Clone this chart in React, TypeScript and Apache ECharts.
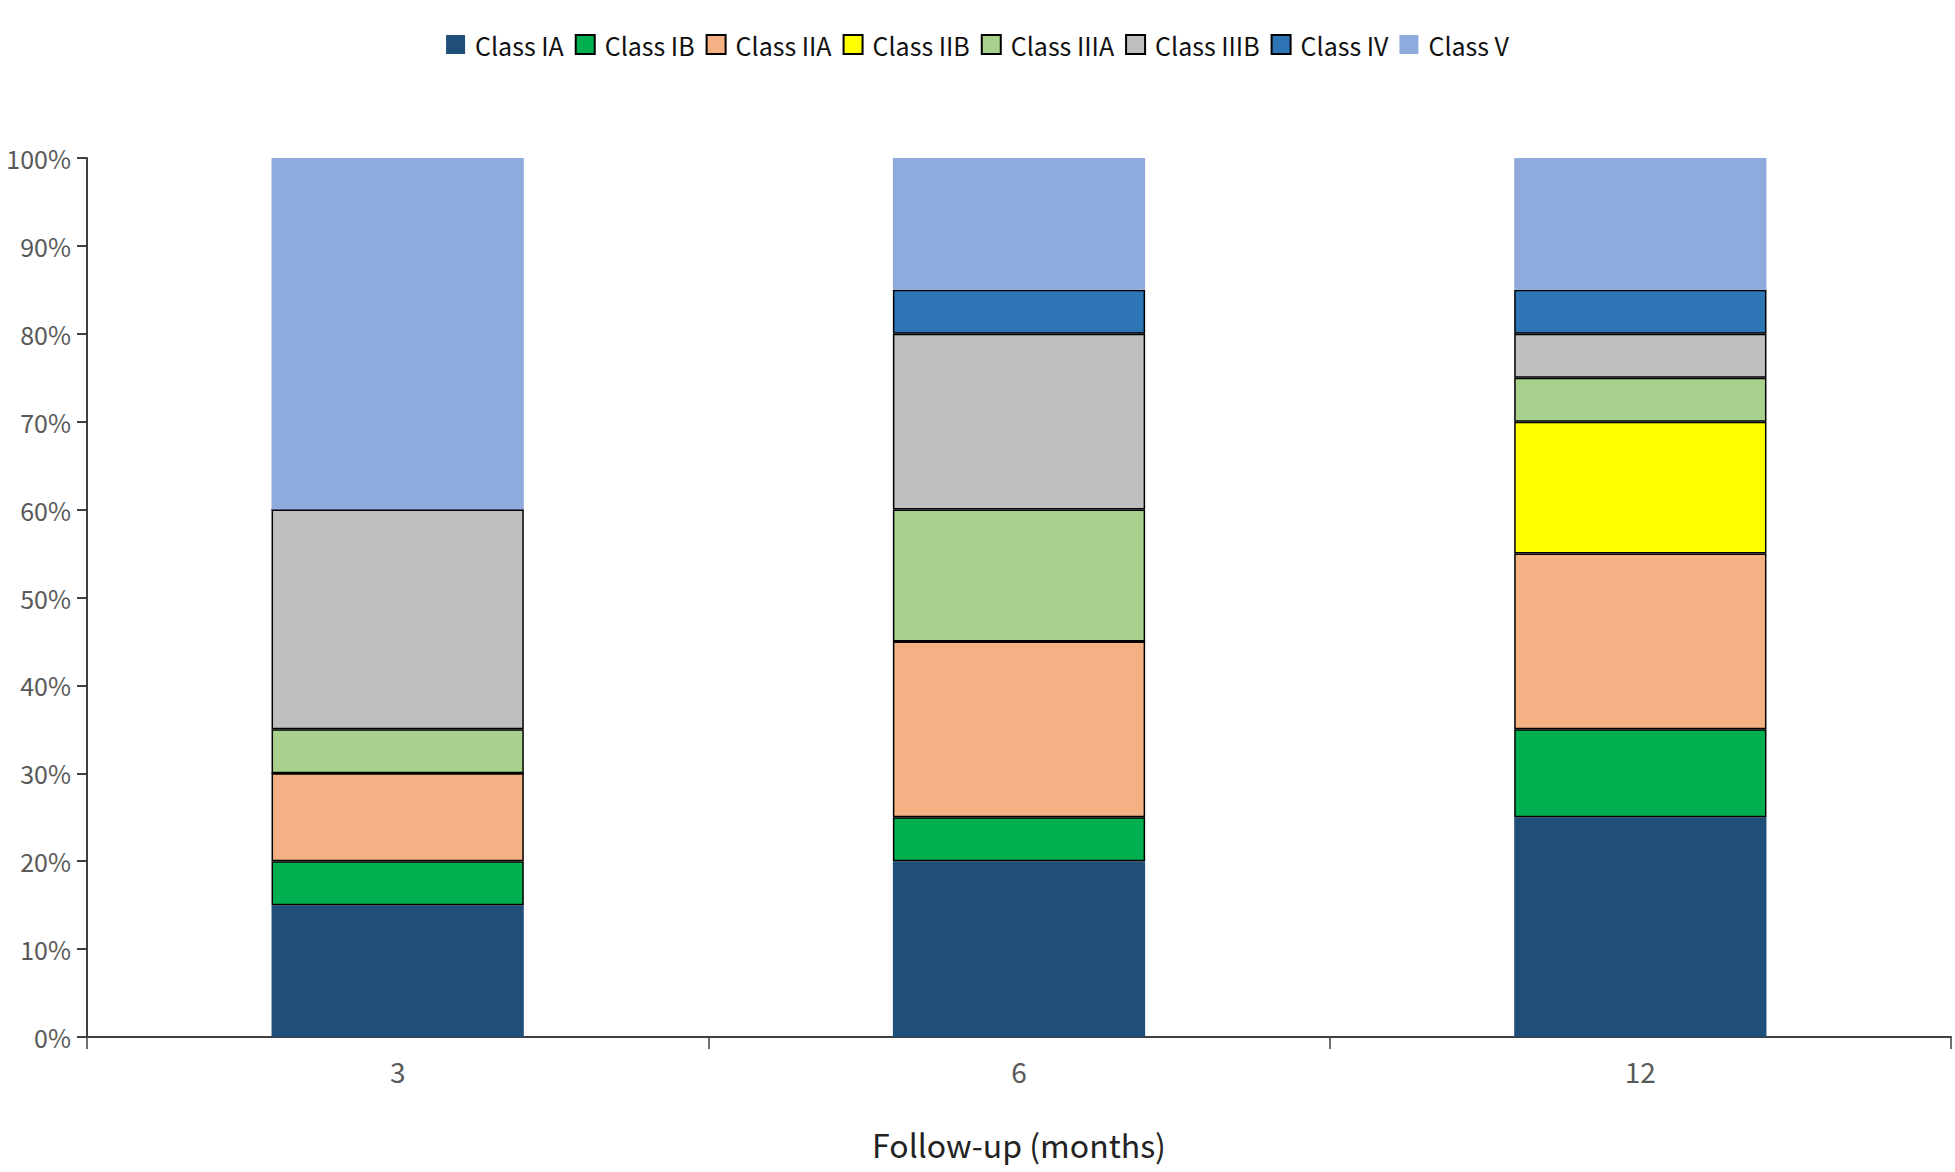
import React, { useEffect, useRef } from "react";
import * as echarts from "echarts";

const categories = ["3", "6", "12"];
const seriesNames = ["Class IA", "Class IB", "Class IIA", "Class IIB", "Class IIIA", "Class IIIB", "Class IV", "Class V"];
const classIA = [15, 20, 25];
const classIB = [5, 5, 10];
const classIIA = [10, 20, 20];
const classIIB = [0, 0, 15];
const classIIIA = [5, 15, 5];
const classIIIB = [25, 20, 5];
const classIV = [0, 5, 5];
const classV = [40, 15, 15];
const colors = ["#1F4E79", "#00B050", "#F4B183", "#FFFF00", "#A9D18E", "#BFBFBF", "#2E75B6", "#8FAADC"];
const bordered = [false, true, true, true, true, true, true, false];

const FONT = "'Noto Sans CJK SC', 'Noto Sans', sans-serif";

export default function App() {
  const ref = useRef<HTMLDivElement>(null);
  useEffect(() => {
    if (!ref.current) return;
    const chart = echarts.init(ref.current, undefined, { renderer: "svg" });
    const values = [classIA, classIB, classIIA, classIIB, classIIIA, classIIIB, classIV, classV];
    chart.setOption({
      animation: false,
      backgroundColor: "#ffffff",
      textStyle: { fontFamily: FONT },
      legend: {
        data: seriesNames,
        left: "center",
        top: 27,
        icon: "rect",
        itemWidth: 19,
        itemHeight: 19,
        itemGap: 11,
        textStyle: { fontSize: 25, color: "#111111", fontFamily: FONT, padding: [0, 0, 0, 5] },
      },
      grid: { left: 87, right: 4, top: 158, height: 879, containLabel: false },
      xAxis: {
        type: "category",
        data: categories,
        boundaryGap: true,
        name: "Follow-up (months)",
        nameLocation: "middle",
        nameGap: 91,
        nameTextStyle: { fontSize: 32, color: "#222222", fontFamily: FONT },
        axisLine: { show: true, lineStyle: { color: "#404040", width: 2 } },
        axisTick: { show: true, length: 12, alignWithLabel: false, lineStyle: { color: "#404040", width: 1.5 } },
        axisLabel: { fontSize: 28, color: "#595959", margin: 20, fontFamily: FONT },
        splitLine: { show: false },
      },
      yAxis: {
        type: "value",
        min: 0,
        max: 100,
        interval: 10,
        axisLine: { show: true, lineStyle: { color: "#404040", width: 2 } },
        axisTick: { show: true, length: 10, lineStyle: { color: "#404040", width: 2 } },
        axisLabel: { fontSize: 25, color: "#595959", margin: 16, formatter: "{value}%", fontFamily: FONT },
        splitLine: { show: false },
      },
      series: seriesNames.map((name, i) => ({
        name,
        type: "bar",
        stack: "total",
        barWidth: "40.6%",
        data: values[i],
        itemStyle: {
          color: colors[i],
          borderColor: bordered[i] ? "#000000" : colors[i],
          borderWidth: bordered[i] ? 1.5 : 0,
        },
        emphasis: { disabled: true },
      })),
    });
    return () => chart.dispose();
  }, []);
  return (
    <div
      ref={ref}
      style={{ position: "fixed", left: 0, top: 0, width: 1955, height: 1172, background: "#fff" }}
    />
  );
}
